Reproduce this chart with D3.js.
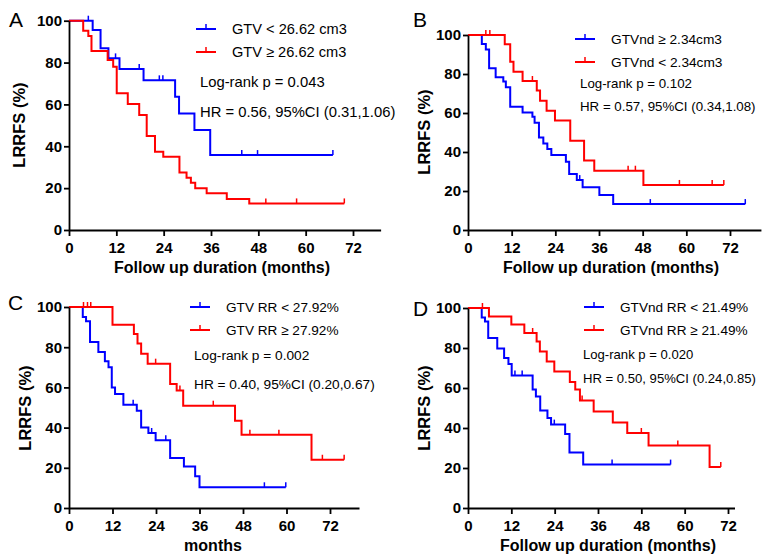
<!DOCTYPE html>
<html>
<head>
<meta charset="utf-8">
<script src="https://cdn.jsdelivr.net/npm/d3@7"></script>
<style>
  body { margin: 0; background: #fff; }
  svg { font-family: "Liberation Sans", Arial, sans-serif; }
</style>
</head>
<body>
<svg width="762" height="556"></svg>
<script>
// tick values shared by all four panels
var xTicks = [0, 12, 24, 36, 48, 60, 72];
var yTicks = [0, 20, 40, 60, 80, 100];

// KM steps: [month, survival %] -- survival changes at that month, last pair = end of follow up
var aBlue = [[0,100],[6,95.5],[8,86.8],[10,82],[12.8,76.9],[18.9,71.5],[26.9,63.7],[27.9,55.7],[31.8,47.8],[35.8,35.8],[66.9,35.8]];
var aBlueCens = [4.9, 11.8, 17.8, 22.9, 23.8, 43.8, 47.8, 66.9];
var aRed = [[0,100],[3.6,95.2],[4.9,92.7],[5.7,85.5],[9.8,81.2],[11.2,78],[12.1,65.3],[14.9,60.2],[17.8,54.9],[19.7,44.9],[21.8,37.4],[23.9,35],[28,27.5],[29.8,25],[30.9,22.6],[32,19.9],[34.9,17.5],[40,14.8],[45.7,12.7],[69.8,12.7]];
var aRedCens = [49.9, 57.7, 69.8];

var bBlue = [[0,100],[3.8,95.4],[4.9,92.6],[5.8,82.9],[7.6,78.3],[9.7,76.1],[10.4,73.2],[11.6,63.2],[15,60.2],[17.7,58.1],[18.3,55],[19.5,47.4],[20.7,44.4],[21.8,41.5],[22.9,38.5],[26.9,35],[27.8,28.7],[29.9,25.6],[31.5,21.9],[36.1,17.9],[39.9,13.3],[76.2,13.3]];
var bBlueCens = [30.7, 50.1, 76.2];
var bRed = [[0,100],[10.1,95.2],[11.6,86.3],[12.5,81.2],[15,76.4],[18.9,71.5],[19.8,66.3],[21.6,61.2],[23.9,56.1],[28.1,45.8],[31.9,35.6],[34.7,30.4],[48.2,23.1],[70.3,23.1]];
var bRedCens = [4.9, 6.0, 17.7, 44.0, 46.0, 58.1, 67.1, 70.3];

var cBlue = [[0,100],[3.8,95],[4.7,92.9],[5.8,82.6],[8.1,77.6],[9.9,73],[10.9,70],[11.8,60],[12.7,56.7],[15,51.4],[18.7,48.4],[19.9,40.1],[21.9,37.3],[23.9,33.7],[27.9,24.9],[31.7,20.7],[34.8,15.8],[36,10.3],[59.8,10.3]];
var cBlueCens = [17.7, 22.8, 26.7, 53.9, 59.8];
var cRed = [[0,100],[12,91.2],[17.9,86.6],[18.9,81.8],[19.9,76.8],[21.7,71.8],[27.9,61.7],[29.7,58.4],[31.5,50.9],[45.8,43.4],[47.6,36.5],[66.9,24],[75.9,24]];
var cRedCens = [4, 5.1, 6, 23.9, 30.6, 39.8, 49.9, 57.9, 69.9, 75.9];

var dBlue = [[0,100],[3.8,95.3],[4.7,93.3],[5.6,85],[8.1,79.7],[10,75],[11.2,72],[12.1,66.3],[17.9,59.2],[18.8,55.8],[20,48.7],[22,45],[23,41.7],[26.9,37],[28.1,27.8],[31.9,21.7],[56.1,21.7]];
var dBlueCens = [13.0, 15.0, 23.9, 39.9, 56.1];
var dRed = [[0,100],[5.8,95.8],[12,91.7],[15.6,87.5],[19,83.3],[19.9,78.3],[21.8,73.3],[23.9,68.3],[28.2,63],[29.7,59.2],[31,53.7],[34.8,48.3],[40.1,42.8],[44.1,37.5],[50,31.3],[66.9,20.5],[70,20.5]];
var dRedCens = [4, 17.9, 31.6, 48, 58.1, 70];

// labels
var blueLabels = ["GTV < 26.62 cm3", "GTVnd \u2265 2.34cm3", "GTV RR < 27.92%", "GTVnd RR < 21.49%"];
var redLabels  = ["GTV \u2265 26.62 cm3", "GTVnd < 2.34cm3", "GTV RR \u2265 27.92%", "GTVnd RR \u2265 21.49%"];
var pLabels  = ["Log-rank p = 0.043", "Log-rank p = 0.102", "Log-rank p = 0.002", "Log-rank p = 0.020"];
var hrLabels = ["HR = 0.56, 95%CI (0.31,1.06)", "HR = 0.57, 95%CI (0.34,1.08)", "HR = 0.40, 95%CI (0.20,0.67)", "HR = 0.50, 95%CI (0.24,0.85)"];
var xTitles  = ["Follow up duration (months)", "Follow up duration (months)", "months", "Follow up duration (months)"];
var panelLetters = ["A", "B", "C", "D"];

var BLUE = "#0000ff", RED = "#ff0000";

// layout of each panel (pixel positions, font sizes)
var layout = [
  {x0: 69,  x72: 353, xEnd: 79,   yTop: 20.7, yBot: 230, lx: 196, ly: 29,  ax: 200, ay: 82,  hy: 112, xtX: 222, xtY: 273, ytX: 19,  ytY: 125, letX: 9,   letY: 27,  legFs: 14.6, annFs: 14.8},
  {x0: 468, x72: 730, xEnd: 80.5, yTop: 35,   yBot: 230, lx: 575, ly: 39,  ax: 580, ay: 83,  hy: 106, xtX: 611, xtY: 273, ytX: 424, ytY: 132, letX: 413, letY: 27,  legFs: 13.7, annFs: 13.3},
  {x0: 69,  x72: 330, xEnd: 80,   yTop: 307,  yBot: 508, lx: 190, ly: 307, ax: 194, ay: 355, hy: 384, xtX: 213, xtY: 551, ytX: 25,  ytY: 408, letX: 8,   letY: 310, legFs: 13.6, annFs: 13.7},
  {x0: 468, x72: 728, xEnd: 73.8, yTop: 308,  yBot: 508, lx: 584, ly: 307, ax: 583, ay: 354, hy: 378, xtX: 608, xtY: 551, ytX: 424, ytY: 408, letX: 413, letY: 316, legFs: 13.6, annFs: 13.1}
];

var series = [
  [{steps: aBlue, cens: aBlueCens, color: BLUE}, {steps: aRed, cens: aRedCens, color: RED}],
  [{steps: bBlue, cens: bBlueCens, color: BLUE}, {steps: bRed, cens: bRedCens, color: RED}],
  [{steps: cBlue, cens: cBlueCens, color: BLUE}, {steps: cRed, cens: cRedCens, color: RED}],
  [{steps: dBlue, cens: dBlueCens, color: BLUE}, {steps: dRed, cens: dRedCens, color: RED}]
];

var svg = d3.select("svg");

// survival at time t from a step list
function survAt(steps, t) {
  var s = steps[0][1];
  steps.forEach(function(p) { if (p[0] <= t) s = p[1]; });
  return s;
}

layout.forEach(function(L, i) {
  var g = svg.append("g");
  var pxPerMonth = (L.x72 - L.x0) / 72;
  var x = d3.scaleLinear().domain([0, L.xEnd]).range([L.x0, L.x0 + pxPerMonth * L.xEnd]);
  var y = d3.scaleLinear().domain([0, 100]).range([L.yBot, L.yTop]);

  // curves
  var line = d3.line()
      .x(function(d) { return x(d[0]); })
      .y(function(d) { return y(d[1]); })
      .curve(d3.curveStepAfter);

  series[i].forEach(function(s) {
    g.append("path")
      .datum(s.steps)
      .attr("fill", "none")
      .attr("stroke", s.color)
      .attr("stroke-width", 2)
      .attr("d", line);

    g.selectAll(null)
      .data(s.cens)
      .enter().append("line")
      .attr("x1", function(d) { return x(d); })
      .attr("x2", function(d) { return x(d); })
      .attr("y1", function(d) { return y(survAt(s.steps, d)); })
      .attr("y2", function(d) { return y(survAt(s.steps, d)) - 5; })
      .attr("stroke", s.color)
      .attr("stroke-width", 1.5);
  });

  // axes
  var yAxis = g.append("g")
      .attr("transform", "translate(" + L.x0 + ",0)")
      .call(d3.axisLeft(y).tickValues(yTicks).tickSize(5).tickSizeOuter(0).tickPadding(2));
  var xAxis = g.append("g")
      .attr("transform", "translate(0," + L.yBot + ")")
      .call(d3.axisBottom(x).tickValues(xTicks).tickSize(6).tickSizeOuter(0).tickPadding(6));

  [yAxis, xAxis].forEach(function(a) {
    a.select(".domain").attr("stroke", "#000").attr("stroke-width", 1.8);
    a.selectAll(".tick line").attr("stroke", "#000").attr("stroke-width", 1.8);
    a.selectAll(".tick text")
      .attr("fill", "#000")
      .style("font-size", "15px")
      .style("font-weight", "bold")
      .style("font-family", "'Liberation Sans', Arial, sans-serif");
  });

  // axis titles
  g.append("text")
    .attr("x", L.xtX).attr("y", L.xtY)
    .attr("text-anchor", "middle")
    .style("font-size", "16px").style("font-weight", "bold")
    .text(xTitles[i]);
  g.append("text")
    .attr("transform", "translate(" + L.ytX + "," + L.ytY + ") rotate(-90)")
    .attr("text-anchor", "middle")
    .attr("dy", "0.35em")
    .style("font-size", "16.5px").style("font-weight", "bold")
    .text("LRRFS (%)");

  // panel letter
  g.append("text")
    .attr("x", L.letX).attr("y", L.letY)
    .style("font-size", "21px")
    .text(panelLetters[i]);

  // legend
  [blueLabels[i], redLabels[i]].forEach(function(lab, k) {
    var ly = L.ly + k * 23;
    var c = k === 0 ? BLUE : RED;
    g.append("line")
      .attr("x1", L.lx).attr("x2", L.lx + 20)
      .attr("y1", ly).attr("y2", ly)
      .attr("stroke", c).attr("stroke-width", 2);
    g.append("line")
      .attr("x1", L.lx + 10).attr("x2", L.lx + 10)
      .attr("y1", ly).attr("y2", ly - 5)
      .attr("stroke", c).attr("stroke-width", 1.5);
    g.append("text")
      .attr("x", L.lx + 36).attr("y", ly)
      .attr("dy", "0.35em")
      .style("font-size", L.legFs + "px")
      .text(lab);
  });

  g.append("text")
    .attr("x", L.ax).attr("y", L.ay).attr("dy", "0.35em")
    .style("font-size", L.annFs + "px")
    .text(pLabels[i]);
  g.append("text")
    .attr("x", L.ax).attr("y", L.hy).attr("dy", "0.35em")
    .style("font-size", L.annFs + "px")
    .text(hrLabels[i]);
});
</script>
</body>
</html>
